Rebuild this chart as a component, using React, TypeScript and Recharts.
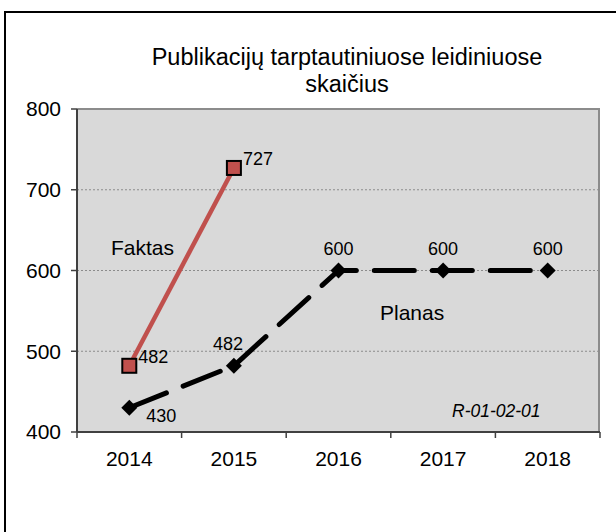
import { LineChart, Line, XAxis, YAxis, CartesianGrid, LabelList } from 'recharts';

const years = ['2014', '2015', '2016', '2017', '2018'];
const faktas: (number | null)[] = [482, 727, null, null, null];
const planas = [430, 482, 600, 600, 600];
const yTicks = [400, 500, 600, 700, 800];

const data = years.map((year, i) => ({ year, faktas: faktas[i], planas: planas[i] }));

const FONT = '"Liberation Sans", Arial, sans-serif';
const PLOT_LEFT = 77;
const PLOT_RIGHT = 600;
const PLOT_TOP = 109;
const PLOT_BOTTOM = 432;
const band = (PLOT_RIGHT - PLOT_LEFT) / years.length;

const XTick = (props: any) => {
  const { x, y, payload, index } = props;
  return (
    <g>
      <line x1={x - band / 2} y1={y} x2={x - band / 2} y2={y + 6} stroke="#404040" strokeWidth={1.5} />
      {index === years.length - 1 && (
        <line x1={x + band / 2} y1={y} x2={x + band / 2} y2={y + 6} stroke="#404040" strokeWidth={1.5} />
      )}
      <text x={x} y={y + 34} textAnchor="middle" fontSize={21} fill="#000" fontFamily={FONT}>
        {payload.value}
      </text>
    </g>
  );
};

const squareDot = (props: any) => {
  const { cx, cy, index } = props;
  if (cx == null || cy == null) return <g key={`s-${index}`} />;
  return (
    <rect key={`s-${index}`} x={cx - 7} y={cy - 7} width={14} height={14} fill="#c0504d" stroke="#000" strokeWidth={2} />
  );
};

const diamondDot = (props: any) => {
  const { cx, cy, index } = props;
  if (cx == null || cy == null) return <g key={`d-${index}`} />;
  return (
    <polygon
      key={`d-${index}`}
      points={`${cx},${cy - 8} ${cx + 8},${cy} ${cx},${cy + 8} ${cx - 8},${cy}`}
      fill="#000"
    />
  );
};

const faktasLabel = (props: any) => {
  const { x, y, value } = props;
  if (value == null) return null;
  return (
    <text x={x + 9} y={y - 3} fontSize={18} fill="#000" fontFamily={FONT}>
      {value}
    </text>
  );
};

const planasLabel = (props: any) => {
  const { x, y, value, index } = props;
  if (index === 0) {
    return (
      <text x={x + 17} y={y + 14} fontSize={18} fill="#000" fontFamily={FONT}>
        {value}
      </text>
    );
  }
  return (
    <text x={index === 1 ? x - 6 : x} y={y - 16} textAnchor="middle" fontSize={18} fill="#000" fontFamily={FONT}>
      {value}
    </text>
  );
};

const App = () => {
  return (
    <div
      style={{
        position: 'absolute',
        left: 0,
        top: 0,
        width: 616,
        height: 532,
        overflow: 'hidden',
        background: '#fff',
        fontFamily: FONT,
      }}
    >
      <div
        style={{
          position: 'absolute',
          left: 4,
          top: 11,
          width: 700,
          height: 700,
          borderLeft: '2.5px solid #000',
          borderTop: '2.5px solid #000',
        }}
      />
      <div
        style={{
          position: 'absolute',
          left: PLOT_LEFT,
          top: PLOT_TOP - 1,
          width: PLOT_RIGHT - PLOT_LEFT,
          height: PLOT_BOTTOM - PLOT_TOP + 1,
          background: '#d9d9d9',
          borderTop: '2px solid #8c8c8c',
          borderRight: '2px solid #8c8c8c',
          boxSizing: 'border-box',
        }}
      />
      <div
        style={{
          position: 'absolute',
          left: 0,
          top: 44,
          width: 694,
          textAlign: 'center',
          fontSize: 23.5,
          lineHeight: '27px',
          color: '#000',
        }}
      >
        Publikacijų tarptautiniuose leidiniuose
        <br />
        skaičius
      </div>
      <div style={{ position: 'absolute', left: 0, top: 0 }}>
        <LineChart
          width={616}
          height={532}
          data={data}
          margin={{ top: PLOT_TOP, right: 616 - PLOT_RIGHT, bottom: 70, left: PLOT_LEFT - 60 }}
        >
          <CartesianGrid vertical={false} stroke="#8c8c8c" strokeDasharray="2 2" />
          <XAxis
            dataKey="year"
            height={30}
            tickSize={0}
            tickMargin={0}
            tickLine={false}
            tick={<XTick />}
            axisLine={{ stroke: '#404040', strokeWidth: 2 }}
            interval={0}
            padding={{ left: band / 2, right: band / 2 }}
          />
          <YAxis
            width={60}
            domain={[400, 800]}
            ticks={yTicks}
            tickSize={6}
            tickMargin={10}
            tickLine={{ stroke: '#404040', strokeWidth: 1.5 }}
            axisLine={{ stroke: '#404040', strokeWidth: 2 }}
            tick={{ fill: '#000', fontSize: 21, fontFamily: FONT }}
          />
          <Line
            dataKey="planas"
            stroke="#000"
            strokeWidth={5}
            strokeDasharray="40 18"
            strokeLinecap="round"
            dot={diamondDot}
            activeDot={false}
            isAnimationActive={false}
          >
            <LabelList dataKey="planas" content={planasLabel} />
          </Line>
          <Line
            dataKey="faktas"
            stroke="#c0504d"
            strokeWidth={4.5}
            dot={squareDot}
            activeDot={false}
            isAnimationActive={false}
          >
            <LabelList dataKey="faktas" content={faktasLabel} />
          </Line>
        </LineChart>
      </div>
      <div style={{ position: 'absolute', left: 111, top: 236, fontSize: 21, color: '#000' }}>Faktas</div>
      <div style={{ position: 'absolute', left: 380, top: 301, fontSize: 21, color: '#000' }}>Planas</div>
      <div style={{ position: 'absolute', left: 452, top: 401, fontSize: 17.5, fontStyle: 'italic', color: '#000' }}>
        R-01-02-01
      </div>
    </div>
  );
};

export default App;
